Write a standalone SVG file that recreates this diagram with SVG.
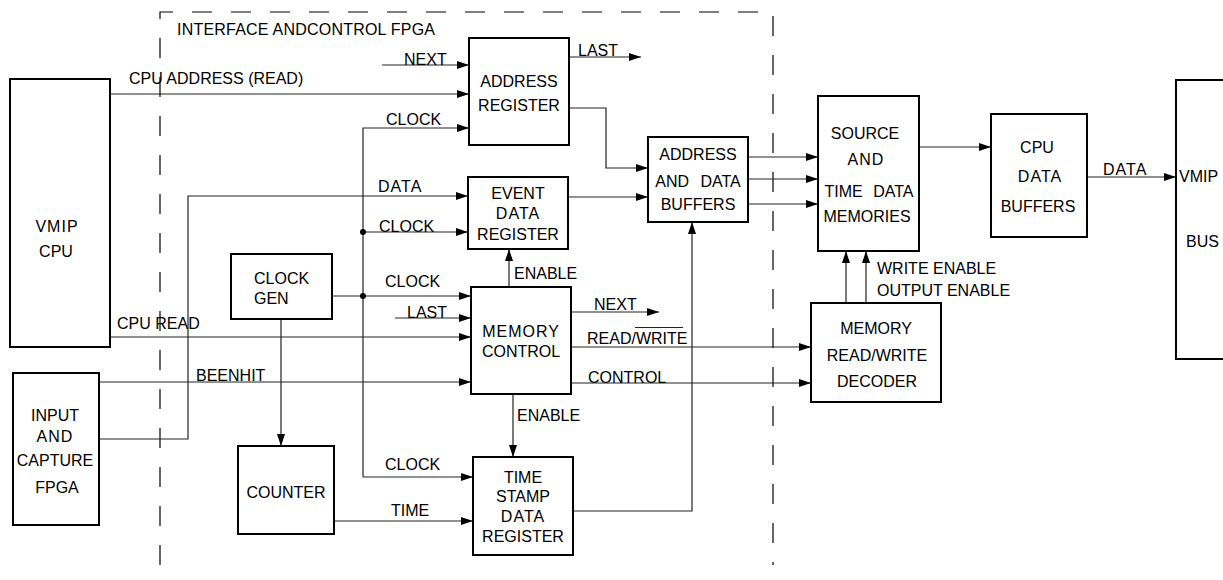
<svg xmlns="http://www.w3.org/2000/svg" width="1223" height="580" viewBox="0 0 1223 580">
  <defs>
    <marker id="arrow" markerUnits="userSpaceOnUse" markerWidth="12" markerHeight="8" refX="12" refY="4" orient="auto">
      <path d="M0,0 L12,4 L0,8 Z" fill="#000"/>
    </marker>
    <style>
      .box { fill: #fff; stroke: #000; stroke-width: 2; }
      .wire { fill: none; stroke: #222; stroke-width: 1.2; }
      .arr { marker-end: url(#arrow); }
      .frame { fill: none; stroke: #000; stroke-width: 1.2; stroke-dasharray: 20 19; }
      text { font-family: "Liberation Sans", Arial, sans-serif; font-size: 16px; fill: #000; }
      .c { text-anchor: middle; }
      .sp { letter-spacing: 1px; }
    </style>
  </defs>
  <rect width="1223" height="580" fill="#fff"/>

  <!-- FPGA boundary -->
  <g id="fpga-boundary">
    <path class="frame" d="M160,565 L160,12 L773,12 L773,565"/>
    <text x="177" y="35" textLength="258">INTERFACE ANDCONTROL FPGA</text>
  </g>

  <!-- Connectors -->
  <g id="connectors">
    <!-- CPU address -->
    <path class="wire arr" d="M110,94 H469"/>
    <!-- NEXT into address register -->
    <path class="wire arr" d="M382,65 H469"/>
    <!-- LAST out -->
    <path class="wire arr" d="M569,57 H641"/>
    <!-- clock bus -->
    <path class="wire arr" d="M363,477 V128 H469"/>
    <path class="wire arr" d="M363,232 H468"/>
    <path class="wire arr" d="M332,296 H471"/>
    <path class="wire arr" d="M363,477 H473"/>
    <circle cx="363" cy="232" r="3" fill="#000"/>
    <circle cx="363" cy="296" r="3" fill="#000"/>
    <!-- clock gen to counter -->
    <path class="wire arr" d="M281,319 V446"/>
    <!-- address register to buffers -->
    <path class="wire arr" d="M569,108 H606 V168 H648"/>
    <!-- data from input/capture -->
    <path class="wire arr" d="M99,439 H188 V196 H468"/>
    <!-- event data register to buffers -->
    <path class="wire arr" d="M568,197 H648"/>
    <!-- enable to event data register -->
    <path class="wire arr" d="M509,287 V249"/>
    <!-- LAST into memory control -->
    <path class="wire arr" d="M395,318 H471"/>
    <!-- CPU read -->
    <path class="wire arr" d="M110,337 H471"/>
    <!-- BEENHIT -->
    <path class="wire arr" d="M99,382 H471"/>
    <!-- memory control outputs -->
    <path class="wire arr" d="M571,312 H659"/>
    <path class="wire arr" d="M571,347 H811"/>
    <path class="wire arr" d="M571,383 H811"/>
    <!-- enable to time stamp register -->
    <path class="wire arr" d="M513,394 V457"/>
    <!-- time -->
    <path class="wire arr" d="M334,521 H473"/>
    <!-- time stamp register to buffers -->
    <path class="wire arr" d="M573,511 H692 V222"/>
    <!-- buffers to memories -->
    <path class="wire arr" d="M748,157 H818"/>
    <path class="wire arr" d="M748,179 H818"/>
    <path class="wire arr" d="M748,204 H818"/>
    <!-- memories to CPU data buffers -->
    <path class="wire arr" d="M919,147 H991"/>
    <!-- CPU data buffers to bus -->
    <path class="wire arr" d="M1087,177 H1176"/>
    <!-- decoder to memories -->
    <path class="wire arr" d="M846,303 V251"/>
    <path class="wire arr" d="M866,303 V251"/>

    <!-- connector labels -->
    <text x="129" y="84">CPU ADDRESS (READ)</text>
    <text x="404" y="65">NEXT</text>
    <text x="578" y="56">LAST</text>
    <text x="386" y="125">CLOCK</text>
    <text x="378" y="192" class="sp">DATA</text>
    <text x="379" y="232">CLOCK</text>
    <text x="514" y="279">ENABLE</text>
    <text x="385" y="287">CLOCK</text>
    <text x="407" y="317.5">LAST</text>
    <text x="117" y="329">CPU READ</text>
    <text x="196" y="381">BEENHIT</text>
    <text x="594" y="309.5">NEXT</text>
    <text x="587" y="344">READ/WRITE</text>
    <path class="wire" d="M635,327.5 H683"/>
    <text x="588" y="383">CONTROL</text>
    <text x="517" y="421">ENABLE</text>
    <text x="385" y="470">CLOCK</text>
    <text x="391" y="516">TIME</text>
    <text x="877" y="274">WRITE ENABLE</text>
    <text x="877" y="296">OUTPUT ENABLE</text>
    <text x="1103" y="175" class="sp">DATA</text>
  </g>

  <!-- Nodes -->
  <g id="vmip-cpu">
    <rect class="box" x="10" y="79" width="100" height="268"/>
    <text class="c sp" x="57" y="232">VMIP</text>
    <text class="c" x="56" y="257">CPU</text>
  </g>

  <g id="input-capture-fpga">
    <rect class="box" x="13" y="373" width="86" height="152"/>
    <text class="c" x="55" y="421">INPUT</text>
    <text class="c sp" x="55" y="442">AND</text>
    <text class="c" x="55" y="466">CAPTURE</text>
    <text class="c" x="57" y="493">FPGA</text>
  </g>

  <g id="address-register">
    <rect class="box" x="469" y="38" width="100" height="107"/>
    <text class="c" x="519" y="87">ADDRESS</text>
    <text class="c" x="519" y="111">REGISTER</text>
  </g>

  <g id="event-data-register">
    <rect class="box" x="468" y="177" width="100" height="72"/>
    <text class="c" x="518" y="199">EVENT</text>
    <text class="c sp" x="518" y="219">DATA</text>
    <text class="c" x="518" y="240">REGISTER</text>
  </g>

  <g id="clock-gen">
    <rect class="box" x="231" y="254" width="101" height="65"/>
    <text x="254" y="284">CLOCK</text>
    <text x="254" y="304">GEN</text>
  </g>

  <g id="memory-control">
    <rect class="box" x="471" y="287" width="100" height="107"/>
    <text class="c sp" x="521" y="337">MEMORY</text>
    <text class="c" x="521" y="357">CONTROL</text>
  </g>

  <g id="counter">
    <rect class="box" x="238" y="446" width="96" height="88"/>
    <text class="c" x="286" y="498">COUNTER</text>
  </g>

  <g id="time-stamp-data-register">
    <rect class="box" x="473" y="457" width="100" height="98"/>
    <text class="c" x="523" y="483">TIME</text>
    <text class="c" x="523" y="501.5">STAMP</text>
    <text class="c sp" x="523" y="522">DATA</text>
    <text class="c" x="523" y="542">REGISTER</text>
  </g>

  <g id="address-data-buffers">
    <rect class="box" x="648" y="137" width="100" height="85"/>
    <text class="c" x="698" y="160">ADDRESS</text>
    <text class="c" x="698" y="187" word-spacing="7">AND DATA</text>
    <text class="c" x="698" y="210">BUFFERS</text>
  </g>

  <g id="source-time-data-memories">
    <rect class="box" x="818" y="96" width="101" height="155"/>
    <text class="c" x="865" y="139">SOURCE</text>
    <text class="c sp" x="866" y="165">AND</text>
    <text class="c" x="869" y="196.5" word-spacing="6">TIME DATA</text>
    <text class="c" x="867" y="222">MEMORIES</text>
  </g>

  <g id="cpu-data-buffers">
    <rect class="box" x="991" y="114" width="96" height="123"/>
    <text class="c" x="1037" y="153">CPU</text>
    <text class="c sp" x="1040" y="181.5">DATA</text>
    <text class="c" x="1038" y="211.5">BUFFERS</text>
  </g>

  <g id="memory-read-write-decoder">
    <rect class="box" x="811" y="303" width="130" height="99"/>
    <text class="c" x="876" y="334">MEMORY</text>
    <text class="c" x="877" y="361">READ/WRITE</text>
    <text class="c" x="877" y="386.5">DECODER</text>
  </g>

  <g id="vmip-bus">
    <rect class="box" x="1176" y="80" width="70" height="279"/>
    <text x="1179" y="182">VMIP</text>
    <text x="1186" y="246.5">BUS</text>
  </g>
</svg>
